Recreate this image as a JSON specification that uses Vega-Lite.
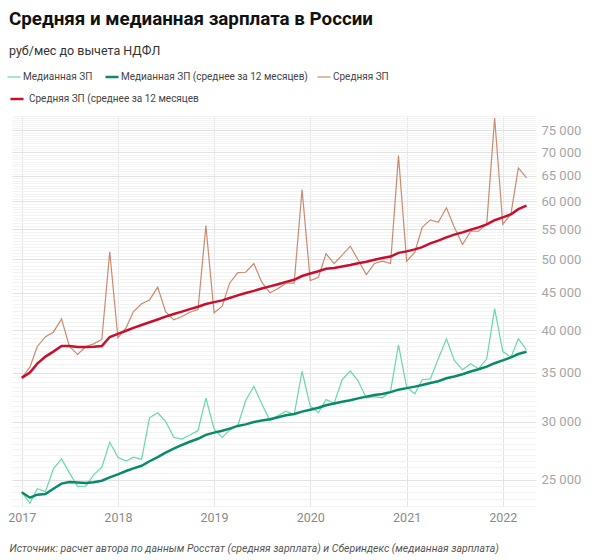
{
  "$schema": "https://vega.github.io/schema/vega-lite/v6.json",
  "width": 524,
  "height": 390,
  "autosize": {"type": "none"},
  "padding": {"left": 12, "top": 116, "right": 64, "bottom": 54},
  "background": "white",
  "config": {"view": {"stroke": null}, "font": "Roboto"},
  "title": {
    "text": "Средняя и медианная зарплата в России",
    "subtitle": "руб/мес до вычета НДФЛ",
    "anchor": "start",
    "frame": "group",
    "dx": -3,
    "offset": 14,
    "font": "Roboto",
    "fontSize": 18.8,
    "fontWeight": "bold",
    "color": "#111111",
    "subtitleFont": "Roboto",
    "subtitleFontSize": 12.5,
    "subtitleColor": "#333333",
    "subtitlePadding": 17
  },
  "data": {
    "values": [
      {"date": "2017-01-01", "med": 24020, "med_ma": 24020, "avg": 34422, "avg_ma": 34422},
      {"date": "2017-02-01", "med": 23200, "med_ma": 23610, "avg": 35600, "avg_ma": 35011},
      {"date": "2017-03-01", "med": 24280, "med_ma": 23833, "avg": 38000, "avg_ma": 36007},
      {"date": "2017-04-01", "med": 24060, "med_ma": 23890, "avg": 39200, "avg_ma": 36806},
      {"date": "2017-05-01", "med": 25850, "med_ma": 24282, "avg": 39750, "avg_ma": 37394},
      {"date": "2017-06-01", "med": 26680, "med_ma": 24682, "avg": 41450, "avg_ma": 38070},
      {"date": "2017-07-01", "med": 25530, "med_ma": 24803, "avg": 38000, "avg_ma": 38060},
      {"date": "2017-08-01", "med": 24460, "med_ma": 24760, "avg": 37060, "avg_ma": 37935},
      {"date": "2017-09-01", "med": 24480, "med_ma": 24729, "avg": 38000, "avg_ma": 37942},
      {"date": "2017-10-01", "med": 25370, "med_ma": 24793, "avg": 38320, "avg_ma": 37980},
      {"date": "2017-11-01", "med": 25990, "med_ma": 24902, "avg": 38850, "avg_ma": 38059},
      {"date": "2017-12-01", "med": 28110, "med_ma": 25169, "avg": 51200, "avg_ma": 39154},
      {"date": "2018-01-01", "med": 26820, "med_ma": 25403, "avg": 39050, "avg_ma": 39540},
      {"date": "2018-02-01", "med": 26490, "med_ma": 25677, "avg": 40300, "avg_ma": 39932},
      {"date": "2018-03-01", "med": 26820, "med_ma": 25888, "avg": 42420, "avg_ma": 40300},
      {"date": "2018-04-01", "med": 26650, "med_ma": 26104, "avg": 43470, "avg_ma": 40656},
      {"date": "2018-05-01", "med": 30360, "med_ma": 26480, "avg": 44000, "avg_ma": 41010},
      {"date": "2018-06-01", "med": 30840, "med_ma": 26827, "avg": 45800, "avg_ma": 41373},
      {"date": "2018-07-01", "med": 30030, "med_ma": 27202, "avg": 42400, "avg_ma": 41739},
      {"date": "2018-08-01", "med": 28560, "med_ma": 27543, "avg": 41330, "avg_ma": 42095},
      {"date": "2018-09-01", "med": 28400, "med_ma": 27870, "avg": 41760, "avg_ma": 42408},
      {"date": "2018-10-01", "med": 28760, "med_ma": 28153, "avg": 42320, "avg_ma": 42742},
      {"date": "2018-11-01", "med": 29170, "med_ma": 28418, "avg": 42700, "avg_ma": 43063},
      {"date": "2018-12-01", "med": 32310, "med_ma": 28768, "avg": 55600, "avg_ma": 43429},
      {"date": "2019-01-01", "med": 29320, "med_ma": 28976, "avg": 42250, "avg_ma": 43696},
      {"date": "2019-02-01", "med": 28550, "med_ma": 29148, "avg": 43140, "avg_ma": 43933},
      {"date": "2019-03-01", "med": 29200, "med_ma": 29346, "avg": 46380, "avg_ma": 44263},
      {"date": "2019-04-01", "med": 29630, "med_ma": 29594, "avg": 47960, "avg_ma": 44637},
      {"date": "2019-05-01", "med": 32060, "med_ma": 29736, "avg": 48000, "avg_ma": 44970},
      {"date": "2019-06-01", "med": 33530, "med_ma": 29960, "avg": 49340, "avg_ma": 45265},
      {"date": "2019-07-01", "med": 31730, "med_ma": 30102, "avg": 46520, "avg_ma": 45608},
      {"date": "2019-08-01", "med": 30100, "med_ma": 30230, "avg": 45000, "avg_ma": 45914},
      {"date": "2019-09-01", "med": 30580, "med_ma": 30412, "avg": 45600, "avg_ma": 46234},
      {"date": "2019-10-01", "med": 31000, "med_ma": 30598, "avg": 46380, "avg_ma": 46573},
      {"date": "2019-11-01", "med": 30660, "med_ma": 30723, "avg": 46400, "avg_ma": 46881},
      {"date": "2019-12-01", "med": 35150, "med_ma": 30959, "avg": 62300, "avg_ma": 47439},
      {"date": "2020-01-01", "med": 31500, "med_ma": 31141, "avg": 46770, "avg_ma": 47816},
      {"date": "2020-02-01", "med": 30850, "med_ma": 31333, "avg": 47260, "avg_ma": 48159},
      {"date": "2020-03-01", "med": 32150, "med_ma": 31578, "avg": 50870, "avg_ma": 48533},
      {"date": "2020-04-01", "med": 31790, "med_ma": 31758, "avg": 49340, "avg_ma": 48648},
      {"date": "2020-05-01", "med": 34220, "med_ma": 31938, "avg": 50650, "avg_ma": 48869},
      {"date": "2020-06-01", "med": 35180, "med_ma": 32076, "avg": 52110, "avg_ma": 49100},
      {"date": "2020-07-01", "med": 34080, "med_ma": 32272, "avg": 49900, "avg_ma": 49382},
      {"date": "2020-08-01", "med": 32300, "med_ma": 32455, "avg": 47660, "avg_ma": 49603},
      {"date": "2020-09-01", "med": 32460, "med_ma": 32612, "avg": 49350, "avg_ma": 49916},
      {"date": "2020-10-01", "med": 32330, "med_ma": 32723, "avg": 49700, "avg_ma": 50193},
      {"date": "2020-11-01", "med": 33010, "med_ma": 32918, "avg": 49350, "avg_ma": 50438},
      {"date": "2020-12-01", "med": 38200, "med_ma": 33173, "avg": 69300, "avg_ma": 51022},
      {"date": "2021-01-01", "med": 33430, "med_ma": 33333, "avg": 49700, "avg_ma": 51266},
      {"date": "2021-02-01", "med": 32740, "med_ma": 33491, "avg": 51130, "avg_ma": 51588},
      {"date": "2021-03-01", "med": 34220, "med_ma": 33663, "avg": 55300, "avg_ma": 51958},
      {"date": "2021-04-01", "med": 34320, "med_ma": 33874, "avg": 56610, "avg_ma": 52563},
      {"date": "2021-05-01", "med": 36560, "med_ma": 34069, "avg": 56190, "avg_ma": 53025},
      {"date": "2021-06-01", "med": 38930, "med_ma": 34382, "avg": 58800, "avg_ma": 53583},
      {"date": "2021-07-01", "med": 36360, "med_ma": 34572, "avg": 55300, "avg_ma": 54033},
      {"date": "2021-08-01", "med": 35310, "med_ma": 34823, "avg": 52380, "avg_ma": 54426},
      {"date": "2021-09-01", "med": 35980, "med_ma": 35116, "avg": 54620, "avg_ma": 54865},
      {"date": "2021-10-01", "med": 35420, "med_ma": 35373, "avg": 54620, "avg_ma": 55275},
      {"date": "2021-11-01", "med": 36560, "med_ma": 35669, "avg": 55900, "avg_ma": 55821},
      {"date": "2021-12-01", "med": 42800, "med_ma": 36053, "avg": 78000, "avg_ma": 56546},
      {"date": "2022-01-01", "med": 37400, "med_ma": 36383, "avg": 55800, "avg_ma": 57054},
      {"date": "2022-02-01", "med": 36740, "med_ma": 36717, "avg": 57700, "avg_ma": 57602},
      {"date": "2022-03-01", "med": 38930, "med_ma": 37109, "avg": 66680, "avg_ma": 58550},
      {"date": "2022-04-01", "med": 37600, "med_ma": 37383, "avg": 64620, "avg_ma": 59218}
    ]
  },
  "transform": [{"fold": ["med", "med_ma", "avg", "avg_ma"], "as": ["series", "value"]}],
  "encoding": {
    "x": {
      "field": "date",
      "type": "temporal",
      "title": "Источник: расчет автора по данным Росстат (средняя зарплата) и Сбериндекс (медианная зарплата)",
      "scale": {
        "type": "utc",
        "domain": [
          {"year": 2016, "month": 11, "date": 25, "utc": true},
          {"year": 2022, "month": 5, "date": 7, "utc": true}
        ]
      },
      "axis": {
        "values": [
          {"year": 2017, "month": 1, "date": 1, "utc": true},
          {"year": 2018, "month": 1, "date": 1, "utc": true},
          {"year": 2019, "month": 1, "date": 1, "utc": true},
          {"year": 2020, "month": 1, "date": 1, "utc": true},
          {"year": 2021, "month": 1, "date": 1, "utc": true},
          {"year": 2022, "month": 1, "date": 1, "utc": true}
        ],
        "format": "%Y",
        "grid": true,
        "gridColor": "#e4e4e4",
        "domain": false,
        "ticks": false,
        "labelFlush": false,
        "labelFont": "Roboto",
        "labelFontSize": 12.5,
        "labelColor": "#8a8a8a",
        "labelPadding": 5,
        "titleFont": "Roboto",
        "titleFontSize": 10.5,
        "titleFontStyle": "italic",
        "titleFontWeight": "normal",
        "titleColor": "#555555",
        "titleAnchor": "start",
        "titleAlign": "left",
        "titleBaseline": "alphabetic",
        "titleX": -3,
        "titleY": 45
      }
    },
    "y": {
      "field": "value",
      "type": "quantitative",
      "title": null,
      "scale": {"type": "log", "domain": [23000, 78500], "nice": false},
      "axis": {
        "orient": "right",
        "values": [23000,23500,24000,24500,25000,25500,26000,26500,27000,27500,28000,28500,29000,29500,30000,30500,31000,31500,32000,32500,33000,33500,34000,34500,35000,35500,36000,36500,37000,37500,38000,38500,39000,39500,40000,40500,41000,41500,42000,42500,43000,43500,44000,44500,45000,45500,46000,46500,47000,47500,48000,48500,49000,49500,50000,50500,51000,51500,52000,52500,53000,53500,54000,54500,55000,55500,56000,56500,57000,57500,58000,58500,59000,59500,60000,60500,61000,61500,62000,62500,63000,63500,64000,64500,65000,65500,66000,66500,67000,67500,68000,68500,69000,69500,70000,70500,71000,71500,72000,72500,73000,73500,74000,74500,75000,75500,76000,76500,77000,77500,78000,78500],
        "labelExpr": "datum.value % 5000 === 0 ? replace(format(datum.value, ','), ',', ' ') : ''",
        "labelOverlap": false,
        "grid": true,
        "gridColor": {"condition": {"test": "datum.value % 5000 === 0", "value": "#e2e2e2"}, "value": "#f3f3f3"},
        "domain": false,
        "ticks": false,
        "labelFont": "Roboto",
        "labelFontSize": 13,
        "labelColor": "#a6a6a6",
        "labelPadding": 5
      }
    }
  },
  "layer": [
    {
      "encoding": {
        "color": {
          "field": "series",
          "type": "nominal",
          "scale": {
            "domain": ["med", "med_ma", "avg"],
            "range": ["#66d9a8", "#0a8a6b", "#c98b6f"]
          },
          "legend": {
            "orient": "none",
            "legendX": -3,
            "legendY": -44,
            "direction": "horizontal",
            "title": null,
            "symbolType": "stroke",
            "symbolSize": 170,
            "symbolStrokeWidth": 1.5,
            "labelFont": "Roboto",
            "labelFontSize": 10,
            "labelColor": "#444444",
            "labelLimit": 400,
            "labelOffset": 4,
            "columnPadding": 7,
            "labelExpr": "datum.value === 'med' ? 'Медианная ЗП' : datum.value === 'med_ma' ? 'Медианная ЗП (среднее за 12 месяцев)' : 'Средняя ЗП'",
            "encode": {
              "symbols": {
                "update": {
                  "strokeWidth": {"signal": "datum.value === 'med_ma' ? 2.5 : 1.2"}
                }
              }
            }
          }
        }
      },
      "layer": [
        {
          "transform": [{"filter": {"field": "series", "oneOf": ["med", "avg"]}}],
          "mark": {"type": "line", "strokeWidth": 1.2}
        },
        {
          "transform": [{"filter": {"field": "series", "equal": "med_ma"}}],
          "mark": {"type": "line", "strokeWidth": 2.5}
        }
      ]
    },
    {
      "transform": [{"filter": {"field": "series", "equal": "avg_ma"}}],
      "mark": {"type": "line", "strokeWidth": 2.5},
      "encoding": {
        "color": {
          "field": "series",
          "type": "nominal",
          "scale": {"domain": ["avg_ma"], "range": ["#c8102e"]},
          "legend": {
            "orient": "none",
            "legendX": -3,
            "legendY": -25,
            "direction": "horizontal",
            "title": null,
            "symbolType": "stroke",
            "symbolSize": 170,
            "symbolStrokeWidth": 2.5,
            "labelFont": "Roboto",
            "labelFontSize": 10,
            "labelColor": "#444444",
            "labelLimit": 400,
            "labelOffset": 4,
            "labelExpr": "'Средняя ЗП (среднее за 12 месяцев'"
          }
        }
      }
    }
  ],
  "resolve": {"scale": {"color": "independent"}}
}
